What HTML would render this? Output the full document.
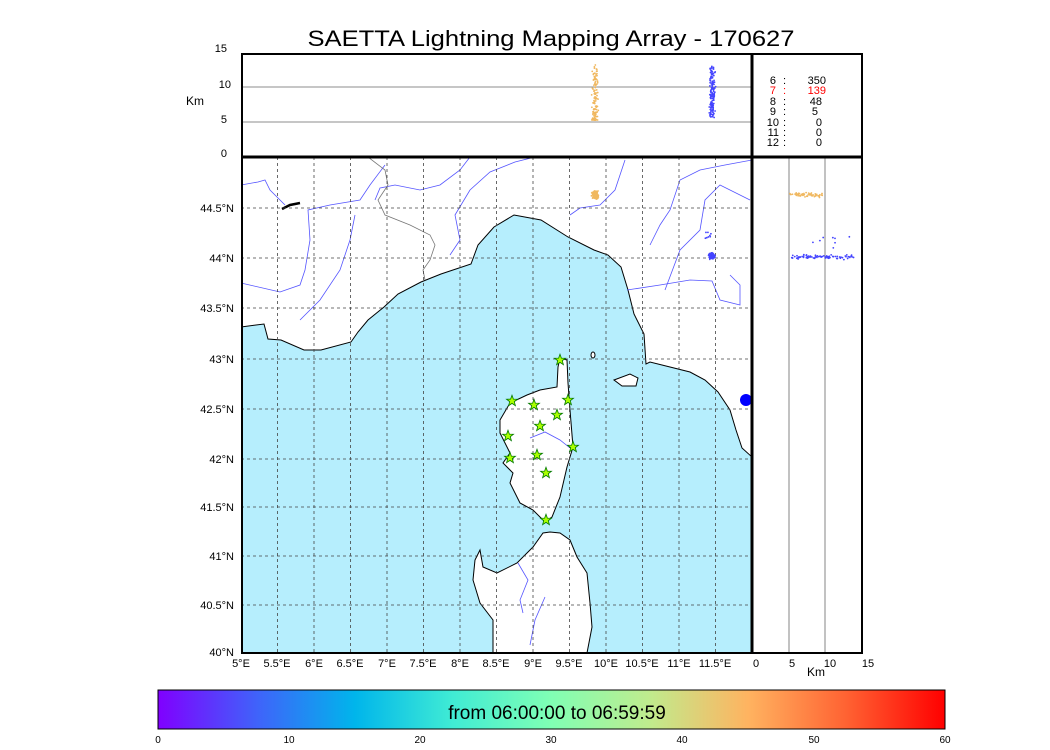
<!DOCTYPE html>
<html><head><meta charset="utf-8"><style>
body{margin:0;background:#fff;width:1050px;height:750px;overflow:hidden;font-family:"Liberation Sans",sans-serif}
svg{position:absolute;left:0;top:0}
</style></head><body>
<svg id="s" width="1050" height="750" xmlns="http://www.w3.org/2000/svg" font-family="Liberation Sans, sans-serif">
<defs>
<linearGradient id="rb" x1="0" x2="1" y1="0" y2="0">
<stop offset="0" stop-color="#8000ff"/><stop offset="0.125" stop-color="#4062fa"/><stop offset="0.25" stop-color="#00b5eb"/><stop offset="0.375" stop-color="#40ecd4"/><stop offset="0.5" stop-color="#80ffb4"/><stop offset="0.625" stop-color="#c0eb8d"/><stop offset="0.75" stop-color="#ffb360"/><stop offset="0.875" stop-color="#ff6232"/><stop offset="1" stop-color="#ff0000"/>
</linearGradient>
<clipPath id="mc"><rect x="241" y="157" width="511" height="496"/></clipPath>
</defs>
<text x="551" y="46" font-size="22" text-anchor="middle" textLength="487" lengthAdjust="spacingAndGlyphs">SAETTA Lightning Mapping Array - 170627</text>
<g clip-path="url(#mc)">
<rect x="241" y="157" width="511" height="496" fill="#b6eefd"/>
<path fill="#fff" stroke="#000" stroke-width="1" d="M241,157 L752,157 L752,457 L742,448 L736,430 L730,410 L718,392 L705,380 L690,372 L670,367 L650,362 L646,364 L644,334 L634,314 L628,290 L621,267 L608,255 L594,250 L568,237 L541,220 L514,215 L494,227 L478,245 L471,264 L441,274 L421,282 L398,294 L384,307 L368,320 L358,332 L351,342 L321,350 L304,350 L281,340 L268,339 L264,324 L241,327 Z"/>
<path fill="#fff" stroke="#000" d="M560,358 L567,360 L568,383 L570,410 L573,447 L567,467 L560,497 L552,517 L545,522 L533,510 L520,503 L510,483 L513,473 L503,463 L510,453 L500,433 L500,420 L510,403 L527,395 L540,390 L557,387 L558,367 Z"/>
<path fill="#fff" stroke="#000" d="M550,532 L560,533 L570,540 L577,557 L587,573 L590,603 L592,627 L587,653 L493,653 L493,620 L480,603 L473,580 L475,560 L480,550 L483,567 L497,573 L517,563 L533,547 L543,533 Z"/>
<path fill="#fff" stroke="#000" d="M614,380 L630,374 L638,378 L636,386 L622,386 Z"/>
<ellipse cx="593" cy="355" rx="2" ry="3" fill="#fff" stroke="#000"/>
<ellipse cx="746" cy="400" rx="6" ry="6" fill="#0000ff"/>
<g fill="none" stroke="#5555ff" stroke-width="0.8">
<path d="M241,185 L258,182 L265,180 L270,190 L285,205"/>
<path d="M241,283 L280,292 L300,285 L305,270 L310,240 L308,210 L330,205 L360,200 L370,185 L385,165"/>
<path d="M300,320 L320,300 L340,270 L350,240 L355,215"/>
<path d="M375,200 L380,188 L395,185 L420,190 L440,185 L460,170 L470,157"/>
<path d="M450,255 L460,240 L455,215 L470,190 L490,172 L515,162 L535,157"/>
<path d="M570,215 L580,208 L600,205 L615,190 L625,160"/>
<path d="M650,245 L660,225 L670,210 L680,180 L700,170 L725,165 L752,160"/>
<path d="M665,290 L680,250 L700,230 L705,200 L720,185 L750,200"/>
<path d="M627,290 L660,285 L690,280 L712,281 L720,300 L740,305 L740,285 L730,275"/>
<path d="M530,438 L545,432 L560,440 L570,448"/>
<path d="M518,563 L528,580 L520,600 L523,613"/>
<path d="M545,597 L535,620 L530,645"/>
</g>
<g fill="none" stroke="#777" stroke-width="0.8">
<path d="M368,157 L385,170 L388,185 L378,200 L385,215 L410,225 L430,235 L435,245 L430,260 L423,270 L425,280"/>
</g>
<path d="M282,209 L290,205 L300,203" stroke="#000" stroke-width="2.5" fill="none"/>
</g>
<g stroke="#444" stroke-width="0.8" stroke-dasharray="3,3">
<line x1="277.5" y1="157" x2="277.5" y2="653"/><line x1="314" y1="157" x2="314" y2="653"/><line x1="350.5" y1="157" x2="350.5" y2="653"/><line x1="387" y1="157" x2="387" y2="653"/><line x1="423.5" y1="157" x2="423.5" y2="653"/><line x1="460" y1="157" x2="460" y2="653"/><line x1="496.5" y1="157" x2="496.5" y2="653"/><line x1="533" y1="157" x2="533" y2="653"/><line x1="569.5" y1="157" x2="569.5" y2="653"/><line x1="606" y1="157" x2="606" y2="653"/><line x1="642.5" y1="157" x2="642.5" y2="653"/><line x1="679" y1="157" x2="679" y2="653"/><line x1="715.5" y1="157" x2="715.5" y2="653"/>
<line x1="241" y1="208" x2="752" y2="208"/><line x1="241" y1="258" x2="752" y2="258"/><line x1="241" y1="308" x2="752" y2="308"/><line x1="241" y1="359" x2="752" y2="359"/><line x1="241" y1="409" x2="752" y2="409"/><line x1="241" y1="459" x2="752" y2="459"/><line x1="241" y1="507" x2="752" y2="507"/><line x1="241" y1="556" x2="752" y2="556"/><line x1="241" y1="605" x2="752" y2="605"/>
</g>
<g stroke="#666" stroke-width="0.8">
<line x1="242" y1="87" x2="752" y2="87"/><line x1="242" y1="122" x2="752" y2="122"/>
<line x1="789" y1="157" x2="789" y2="653"/><line x1="825" y1="157" x2="825" y2="653"/>
</g>
<g id="pts"></g>
<g id="stars" fill="#aaff00" stroke="#007700" stroke-width="0.8"></g>
<rect x="242" y="54" width="620" height="599" fill="none" stroke="#000" stroke-width="2"/>
<line x1="241" y1="157" x2="862" y2="157" stroke="#000" stroke-width="3"/>
<line x1="752" y1="54" x2="752" y2="653" stroke="#000" stroke-width="3"/>
<g font-size="11" text-anchor="end">
<text x="227" y="52">15</text><text x="231" y="88">10</text><text x="227" y="123">5</text><text x="227" y="157">0</text>
<text x="234" y="212">44.5°N</text><text x="234" y="262">44°N</text><text x="234" y="312">43.5°N</text><text x="234" y="363">43°N</text><text x="234" y="413">42.5°N</text><text x="234" y="463">42°N</text><text x="234" y="511">41.5°N</text><text x="234" y="560">41°N</text><text x="234" y="609">40.5°N</text><text x="234" y="656">40°N</text>
</g>
<text x="186" y="105" font-size="12">Km</text>
<g font-size="11" text-anchor="middle">
<text x="241" y="667">5°E</text><text x="277" y="667">5.5°E</text><text x="314" y="667">6°E</text><text x="350" y="667">6.5°E</text><text x="387" y="667">7°E</text><text x="423" y="667">7.5°E</text><text x="460" y="667">8°E</text><text x="496" y="667">8.5°E</text><text x="533" y="667">9°E</text><text x="569" y="667">9.5°E</text><text x="606" y="667">10°E</text><text x="642" y="667">10.5°E</text><text x="679" y="667">11°E</text><text x="715" y="667">11.5°E</text>
<text x="756" y="667">0</text><text x="792" y="667">5</text><text x="830" y="667">10</text><text x="868" y="667">15</text>
</g>
<text x="807" y="676" font-size="12">Km</text>
<g font-size="11">
<g text-anchor="end"><text x="776" y="84">6</text><text x="776" y="94" fill="#f00">7</text><text x="776" y="105">8</text><text x="776" y="115">9</text><text x="779" y="126">10</text><text x="779" y="136">11</text><text x="779" y="146">12</text></g>
<g><text x="783" y="84">:</text><text x="783" y="94" fill="#f00">:</text><text x="783" y="105">:</text><text x="783" y="115">:</text><text x="783" y="126">:</text><text x="783" y="136">:</text><text x="783" y="146">:</text></g>
<g text-anchor="end"><text x="826" y="84">350</text><text x="826" y="94" fill="#f00">139</text><text x="822" y="105">48</text><text x="818" y="115">5</text><text x="822" y="126">0</text><text x="822" y="136">0</text><text x="822" y="146">0</text></g>
</g>
<rect x="158" y="690" width="787" height="39" fill="url(#rb)" stroke="#000" stroke-width="1"/>
<text x="557" y="719" font-size="19" text-anchor="middle">from 06:00:00 to 06:59:59</text>
<g font-size="10" text-anchor="middle">
<text x="158" y="743">0</text><text x="289" y="743">10</text><text x="420" y="743">20</text><text x="551" y="743">30</text><text x="682" y="743">40</text><text x="814" y="743">50</text><text x="945" y="743">60</text>
</g>
</svg>
<script>
var ns="http://www.w3.org/2000/svg",g=document.getElementById('pts'),seed=7;
function r(){seed=(seed*16807)%2147483647;return seed/2147483647;}
function n(){return (r()+r()+r()-1.5)/1.5;}
function dot(x,y,c){var e=document.createElementNS(ns,'circle');e.setAttribute('cx',x);e.setAttribute('cy',y);e.setAttribute('r',0.9);e.setAttribute('fill',c);g.appendChild(e);}
var O="#f0b860",B="#4444ff";
for(var i=0;i<140;i++){var t=r();dot(595+n()*4,120-t*t*55,O);dot(595+n()*4,195+n()*5,O);}
for(var i=0;i<60;i++){dot(790+r()*32+n()*3,195+n()*3,O);}
for(i=0;i<150;i++){var t=r();dot(712+n()*4,117-t*50-n()*3,B);dot(712+n()*4,256+n()*4,B);}
for(i=0;i<80;i++){dot(792+r()*60+n()*3,257+n()*3,B);}
for(i=0;i<8;i++){dot(705+r()*6,232+r()*8,B);dot(800+r()*55,234+r()*15,B);}
var S=document.getElementById('stars'),st=[[560,360],[512,401],[534,405],[568,400],[557,415],[540,426],[508,436],[573,447],[510,458],[537,455],[546,473],[546,520]];
st.forEach(function(p){var d="";for(var k=0;k<10;k++){var a=-Math.PI/2+k*Math.PI/5,R=k%2?2.4:5.8;d+=(k?"L":"M")+(p[0]+R*Math.cos(a)).toFixed(1)+","+(p[1]+R*Math.sin(a)).toFixed(1);}var e=document.createElementNS(ns,'path');e.setAttribute('d',d+'Z');S.appendChild(e);});
</script>
</body></html>
